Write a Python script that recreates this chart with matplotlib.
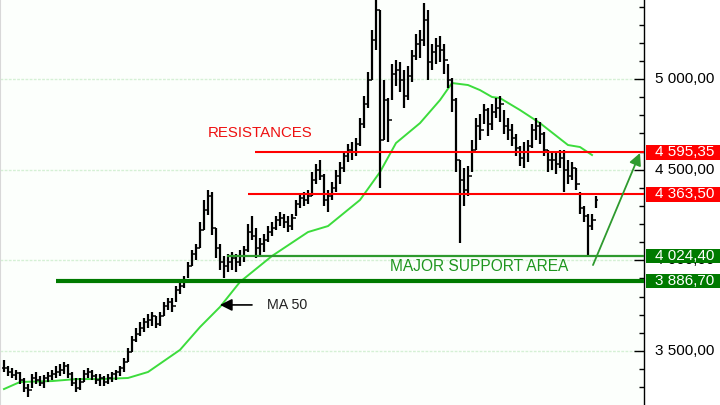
import numpy as np
import matplotlib
matplotlib.use("Agg")
import matplotlib.pyplot as plt
from matplotlib.patches import Rectangle, FancyArrowPatch

plt.rcParams['font.family'] = ['Liberation Sans', 'DejaVu Sans']

# Daily OHLC (open = previous close)
high = [3450, 3417, 3406, 3395, 3384, 3351, 3318, 3373, 3384, 3362,
        3368, 3384, 3395, 3417, 3428, 3439, 3428, 3384, 3351, 3351,
        3395, 3406, 3395, 3373, 3373, 3362, 3373, 3384, 3395, 3417,
        3461, 3517, 3583, 3627, 3660, 3682, 3704, 3715, 3693, 3715,
        3770, 3792, 3792, 3858, 3881, 3914, 3991, 4057, 4090, 4211,
        4333, 4388, 4377, 4178, 4090, 4024, 4035, 4046, 4035, 4057,
        4079, 4200, 4245, 4178, 4123, 4145, 4189, 4211, 4245, 4267,
        4256, 4245, 4256, 4333, 4366, 4377, 4388, 4487, 4531, 4553,
        4476, 4388, 4432, 4498, 4542, 4597, 4642, 4653, 4675, 4785,
        4906, 5039, 5270, 5490, 5381, 4995, 4895, 5083, 5105, 5094,
        5050, 5072, 5160, 5248, 5270, 5419, 5381, 5193, 5226, 5237,
        5193, 5083, 5006, 4895, 4553, 4509, 4520, 4664, 4785, 4807,
        4862, 4840, 4862, 4895, 4906, 4829, 4785, 4752, 4697, 4631,
        4653, 4664, 4752, 4785, 4763, 4708, 4608, 4597, 4597, 4608,
        4608, 4553, 4542, 4509, 4377, 4300, 4256, 4256, 4355]
low = [3384, 3362, 3351, 3340, 3318, 3274, 3246, 3296, 3318, 3307,
       3296, 3329, 3340, 3351, 3362, 3373, 3351, 3307, 3274, 3285,
       3329, 3351, 3340, 3318, 3307, 3307, 3318, 3329, 3340, 3362,
       3384, 3439, 3494, 3550, 3583, 3605, 3627, 3638, 3627, 3638,
       3693, 3726, 3715, 3770, 3814, 3847, 3903, 3969, 4002, 4068,
       4167, 4250, 4140, 4013, 3947, 3903, 3936, 3947, 3936, 3969,
       3991, 4046, 4112, 4013, 4024, 4046, 4101, 4134, 4167, 4189,
       4178, 4156, 4167, 4245, 4289, 4300, 4311, 4355, 4421, 4443,
       4300, 4267, 4333, 4377, 4421, 4487, 4542, 4553, 4575, 4631,
       4730, 4840, 4995, 5160, 4399, 4664, 4653, 4884, 4961, 4928,
       4840, 4884, 4983, 5105, 5116, 5182, 4995, 5050, 5083, 5094,
       5028, 4950, 4818, 4487, 4096, 4300, 4355, 4487, 4608, 4664,
       4752, 4686, 4719, 4785, 4763, 4697, 4664, 4631, 4575, 4520,
       4509, 4542, 4620, 4664, 4642, 4575, 4487, 4498, 4476, 4509,
       4377, 4421, 4443, 4388, 4256, 4211, 4024, 4167, 4289]
close = [3406, 3384, 3368, 3379, 3340, 3296, 3285, 3351, 3340, 3324,
         3351, 3362, 3373, 3384, 3395, 3417, 3373, 3324, 3296, 3329,
         3373, 3384, 3362, 3340, 3351, 3329, 3351, 3373, 3384, 3406,
         3439, 3494, 3561, 3594, 3627, 3660, 3671, 3693, 3649, 3693,
         3748, 3770, 3748, 3836, 3858, 3892, 3969, 4035, 4068, 4167,
         4278, 4355, 4178, 4068, 3991, 3969, 3991, 4013, 3991, 4024,
         4057, 4156, 4134, 4068, 4090, 4112, 4156, 4178, 4222, 4234,
         4211, 4189, 4234, 4311, 4344, 4333, 4355, 4443, 4498, 4465,
         4333, 4355, 4399, 4465, 4509, 4575, 4608, 4597, 4642, 4752,
         4862, 4995, 5215, 5381, 4664, 4884, 4774, 5028, 5050, 4995,
         4906, 5017, 5127, 5193, 5215, 5325, 5094, 5149, 5182, 5160,
         5105, 4995, 4884, 4553, 4443, 4388, 4465, 4608, 4741, 4719,
         4829, 4752, 4818, 4840, 4862, 4741, 4719, 4675, 4620, 4564,
         4597, 4631, 4719, 4741, 4697, 4608, 4553, 4553, 4531, 4564,
         4498, 4465, 4509, 4421, 4289, 4245, 4189, 4222, 4333]

# 50-day moving average, read at selected sessions
ma_idx = [0, 4, 12, 18, 24, 31, 36, 44, 49, 54, 59, 67, 76, 81, 89, 94,
          98, 104, 109, 112, 116, 119, 122, 124, 129, 134, 141, 144, 147]
ma50 = [3290, 3329, 3334, 3345, 3345, 3351, 3384, 3506, 3632, 3743, 3881,
        4024, 4156, 4189, 4333, 4487, 4647, 4757, 4884, 4978, 4967, 4939,
        4901, 4895, 4829, 4757, 4636, 4625, 4581]

resistances = [4595.35, 4363.50]
supports = [4024.40, 3886.70]
level_labels = ["4 595,35", "4 363,50", "4 024,40", "3 886,70"]
ytick_vals = [3500, 4000, 4500, 5000]
ytick_labels = ["3 500,00", "4 000,00", "4 500,00", "5 000,00"]

YMIN, YMAX = 3202, 5436
XMIN, XMAX = -1, 160

fig = plt.figure(figsize=(7.2, 4.05), dpi=100)
fig.patch.set_facecolor('white')
ax = fig.add_axes([0, 0, 644 / 720, 1])
ax.set_facecolor('#FCFFFC')
ax.set_xlim(XMIN, XMAX)
ax.set_ylim(YMIN, YMAX)

n = len(close)
x = np.arange(n)
opens = [close[0]] + close[:-1]

# grid
for v in ytick_vals:
    ax.axhline(v, color='#D5F0D5', lw=1.0, ls=(0, (2, 1)), zorder=0)

# price bars
ax.vlines(x, low, high, color='black', lw=1.6, zorder=3)
ax.hlines(opens, x - 0.5, x, color='black', lw=1.1, zorder=3)
ax.hlines(close, x, x + 0.5, color='black', lw=1.1, zorder=3)

# moving average
ax.plot(ma_idx, ma50, color='#3CDC3C', lw=1.4, zorder=2)

# resistance lines
ax.hlines(resistances[0], 62.75, XMAX, color='#FF0000', lw=1.5, zorder=4)
ax.hlines(resistances[1], 61, XMAX, color='#FF0000', lw=1.5, zorder=4)
# support lines
ax.hlines(supports[0], 55.75, XMAX, color='#2E9A2E', lw=1.6, zorder=4)
ax.hlines(supports[1], 13, XMAX, color='#007A00', lw=3.0, zorder=4)

# annotations
ax.text(51, 4702, "RESISTANCES", color='#EE1111', fontsize=10.8,
        ha='left', va='center')
ax.text(96.5, 3968, "MAJOR SUPPORT AREA", color='#1E961E', fontsize=11.2,
        ha='left', va='center')
ax.text(65.75, 3754, "MA 50", color='#222222', fontsize=10.3,
        ha='left', va='center')
ax.add_patch(FancyArrowPatch((62, 3754), (54, 3754), arrowstyle='-|>',
                             mutation_scale=18, color='black', lw=1.2,
                             shrinkA=0, shrinkB=0, zorder=5))
ax.add_patch(FancyArrowPatch((147.25, 3974), (159, 4592), arrowstyle='-|>',
                             mutation_scale=18, color='#2E9A2E', lw=1.3,
                             shrinkA=0, shrinkB=0, zorder=5))

# spines and ticks
for s in ['top', 'bottom']:
    ax.spines[s].set_visible(False)
ax.spines['left'].set_color('#D8D8D8')
ax.spines['right'].set_color('black')
ax.spines['right'].set_linewidth(1.0)
ax.set_xticks([])
ax.yaxis.set_ticks_position('right')
ax.set_yticks(ytick_vals)
ax.set_yticks(np.arange(3300, 5500, 100), minor=True)
ax.tick_params(axis='y', which='major', direction='in', length=7, width=1,
               labelright=False)
ax.tick_params(axis='y', which='minor', direction='in', length=3.5, width=1)

# right label panel
ax2 = fig.add_axes([644 / 720, 0, 76 / 720, 1])
ax2.set_xlim(0, 1)
ax2.set_ylim(YMIN, YMAX)
ax2.axis('off')
for v, lab in zip(ytick_vals, ytick_labels):
    ax2.text(0.15, v, lab, fontsize=11, color='black', ha='left',
             va='center')
levels = resistances + supports
box_colors = ['#FF0000', '#FF0000', '#007A00', '#007A00']
for v, lab, c in zip(levels, level_labels, box_colors):
    ax2.add_patch(Rectangle((0.02, v - 40), 0.98, 80, facecolor=c,
                            edgecolor='none', zorder=5))
    ax2.text(0.15, v, lab, fontsize=11, color='white', ha='left',
             va='center', zorder=6)

fig.savefig('out.png', dpi=100)
